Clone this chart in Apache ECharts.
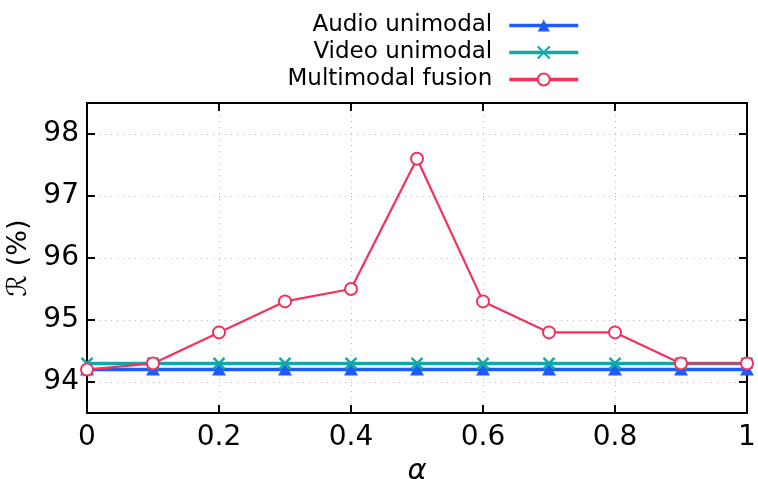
<!DOCTYPE html>
<html>
<head>
<meta charset="utf-8">
<script src="https://cdn.jsdelivr.net/npm/echarts@6/dist/echarts.min.js"></script>
<style>html,body{margin:0;padding:0;background:#fff}#c{width:758px;height:479px}</style>
</head>
<body>
<div id="c"></div>
<script>
const alphas = [0, 0.1, 0.2, 0.3, 0.4, 0.5, 0.6, 0.7, 0.8, 0.9, 1.0];
const audioUnimodal = [94.2, 94.2, 94.2, 94.2, 94.2, 94.2, 94.2, 94.2, 94.2, 94.2, 94.2];
const videoUnimodal = [94.3, 94.3, 94.3, 94.3, 94.3, 94.3, 94.3, 94.3, 94.3, 94.3, 94.3];
const multimodalFusion = [94.2, 94.3, 94.8, 95.3, 95.5, 97.6, 95.3, 94.8, 94.8, 94.3, 94.3];
const seriesNames = ['Audio unimodal', 'Video unimodal', 'Multimodal fusion'];
const xTicks = [0, 0.2, 0.4, 0.6, 0.8, 1];
const yTicks = [94, 95, 96, 97, 98];

const FONT = 'DejaVu Sans';
const pair = arr => alphas.map((a, i) => [a, arr[i]]);
const colA = '#1f5cff', colV = '#12a8aa', colM = '#f5305a';

const chart = echarts.init(document.getElementById('c'), null, {renderer: 'canvas'});
const axisCommon = {
  axisLine: {show: true, onZero: false, lineStyle: {color: '#000', width: 2}},
  axisTick: {show: true, inside: true, length: 8, lineStyle: {color: '#000', width: 2}},
};
chart.setOption({
  animation: false,
  backgroundColor: '#fff',
  grid: {left: 87, right: 11, top: 103, bottom: 66, containLabel: false, outerBoundsMode: 'none'},
  legend: {
    right: 173, top: 9, orient: 'vertical', align: 'right',
    itemWidth: 69, itemHeight: 15, itemGap: 4,
    lineStyle: {width: 3.5},
    textStyle: {fontFamily: FONT, fontSize: 23, color: '#000', padding: [0, 12, 0, 0], lineHeight: 23},
    data: seriesNames
  },
  xAxis: [{
    type: 'value', min: 0, max: 1, interval: 0.2,
    ...axisCommon,
    axisLabel: {fontFamily: FONT, fontSize: 28, color: '#000', margin: 11,
      formatter: v => (xTicks.includes(Math.round(v * 10) / 10) ? String(Math.round(v * 10) / 10) : '')},
    splitLine: {show: true, lineStyle: {color: '#bbb', type: [1, 5], width: 1}},
    name: 'α', nameLocation: 'middle', nameGap: 37,
    nameTextStyle: {fontFamily: FONT, fontSize: 29, fontStyle: 'italic', color: '#000'}
  }, {
    type: 'value', min: 0, max: 1, interval: 0.2, position: 'top',
    ...axisCommon, axisLabel: {show: false}, splitLine: {show: false}
  }],
  yAxis: [{
    type: 'value', min: 93.5, max: 98.5,
    ...axisCommon,
    axisLabel: {fontFamily: FONT, fontSize: 28, color: '#000', margin: 8,
      formatter: v => (yTicks.includes(v) ? String(v) : '')},
    splitLine: {show: true, lineStyle: {color: '#bbb', type: [1, 5], width: 1}},
    name: 'ℛ (%)', nameLocation: 'middle', nameGap: 46, nameRotate: 90,
    nameTextStyle: {fontFamily: FONT, fontSize: 27, color: '#000'}
  }, {
    type: 'value', min: 93.5, max: 98.5, position: 'right',
    ...axisCommon, axisLabel: {show: false}, splitLine: {show: false}
  }],
  series: [{
    name: seriesNames[0], type: 'line', data: pair(audioUnimodal), clip: false,
    symbol: 'triangle', symbolSize: [14, 12],
    itemStyle: {color: colA}, lineStyle: {color: colA, width: 3.5}
  }, {
    name: seriesNames[1], type: 'line', data: pair(videoUnimodal), clip: false,
    symbol: 'path://M0,0L10,10M10,0L0,10', symbolSize: 11,
    itemStyle: {color: 'rgba(0,0,0,0)', borderColor: colV, borderWidth: 2.5},
    lineStyle: {color: colV, width: 3.5}
  }, {
    name: seriesNames[2], type: 'line', data: pair(multimodalFusion), clip: false,
    symbol: 'emptyCircle', symbolSize: 12,
    itemStyle: {color: colM, borderColor: colM, borderWidth: 2},
    lineStyle: {color: colM, width: 2.2}
  }]
});
</script>
</body>
</html>
